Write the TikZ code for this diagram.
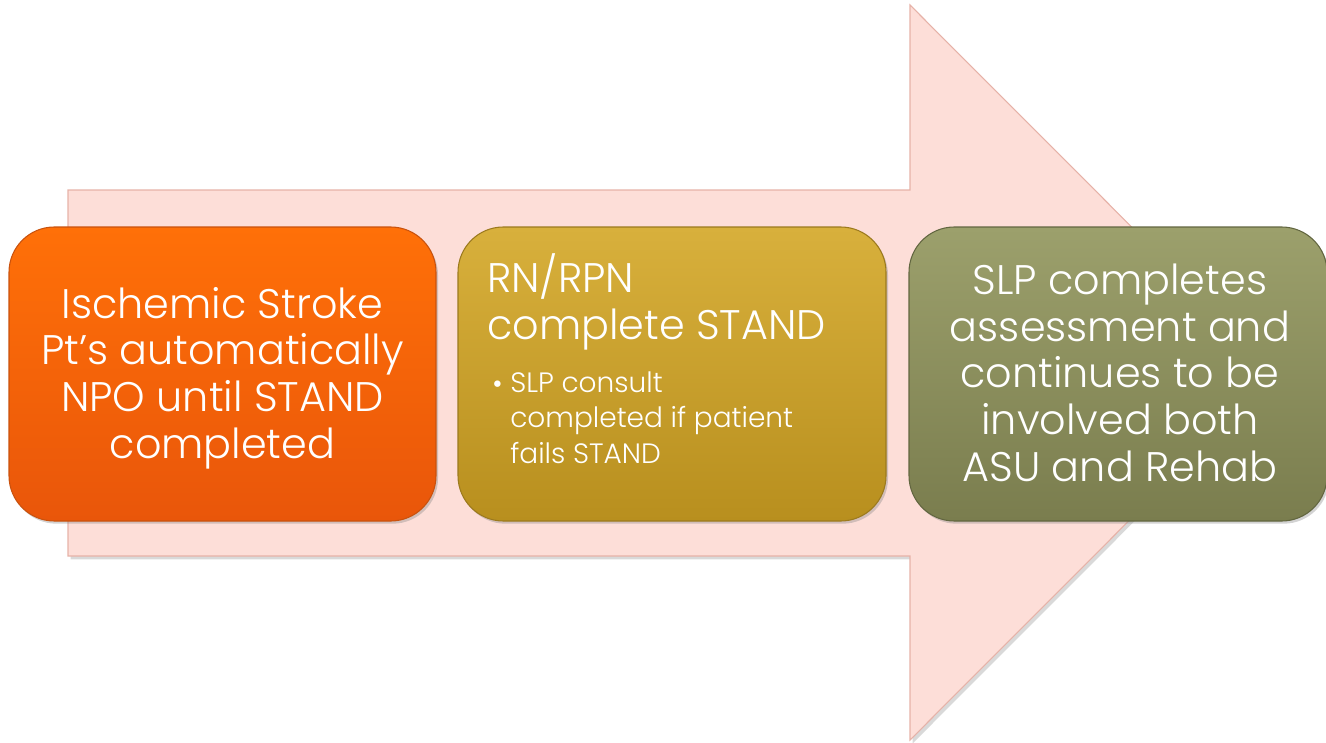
\documentclass[tikz,border=0pt]{standalone}
\usepackage{fontspec}
\setmainfont{Poppins}[UprightFont=* Light]
\usetikzlibrary{shadows}
\definecolor{arrowfill}{HTML}{FDDED8}
\definecolor{arrowedge}{HTML}{E6B2A8}
\definecolor{orTop}{HTML}{FF7008}
\definecolor{orBot}{HTML}{E9560A}
\definecolor{orEdge}{HTML}{C9520E}
\definecolor{goTop}{HTML}{D8B03C}
\definecolor{goBot}{HTML}{B88F1E}
\definecolor{goEdge}{HTML}{9C7A1E}
\definecolor{olTop}{HTML}{9CA06C}
\definecolor{olBot}{HTML}{7A7D4E}
\definecolor{olEdge}{HTML}{626640}
\tikzset{
  x=0.75pt, y=-0.75pt,
  stepbox/.style={rounded corners=34pt, minimum width=#1*0.75pt, minimum height=294*0.75pt,
    line width=0.8pt, drop shadow={shadow xshift=1.5pt, shadow yshift=-2pt, opacity=0.35}},
  bigtext/.style={text=white, font=\fontsize{31}{35}\selectfont, inner sep=0pt},
  smalltext/.style={text=white, font=\fontsize{21}{26.3}\selectfont, inner sep=0pt},
}
\begin{document}
\begin{tikzpicture}
\useasboundingbox (0,0) rectangle (1326,742);
% big arrow
\path[fill=arrowfill, draw=arrowedge, line width=0.8pt,
  drop shadow={shadow xshift=2pt, shadow yshift=-2.5pt, opacity=0.3}]
  (68,190) -- (910,190) -- (910,5) -- (1277,372.5) -- (910,740) -- (910,556) -- (68,556) -- cycle;
% boxes
\node[stepbox=427, top color=orTop, bottom color=orBot, draw=orEdge] (b1) at (222.5,374) {};
\node[stepbox=428, top color=goTop, bottom color=goBot, draw=goEdge] (b2) at (672,374) {};
\node[stepbox=418, top color=olTop, bottom color=olBot, draw=olEdge] (b3) at (1118,374) {};
% texts (anchor=base is the baseline of the last line)
\node[bigtext, align=center, anchor=base] (t1) at (222.5,458)
  {Ischemic Stroke\\Pt’s automatically\\NPO until STAND\\completed};
\node[bigtext, align=left, anchor=base west] (t2) at (487,339)
  {RN/RPN\\complete STAND};
\node[smalltext, anchor=base west] (t2b) at (492,393) {•};
\node[smalltext, align=left, anchor=base west] (t2c) at (510,463)
  {SLP consult\\completed if patient\\fails STAND};
\node[bigtext, align=center, anchor=base] (t3) at (1120,481)
  {SLP completes\\assessment and\\continues to be\\involved both\\ASU and Rehab};
\end{tikzpicture}
\end{document}
